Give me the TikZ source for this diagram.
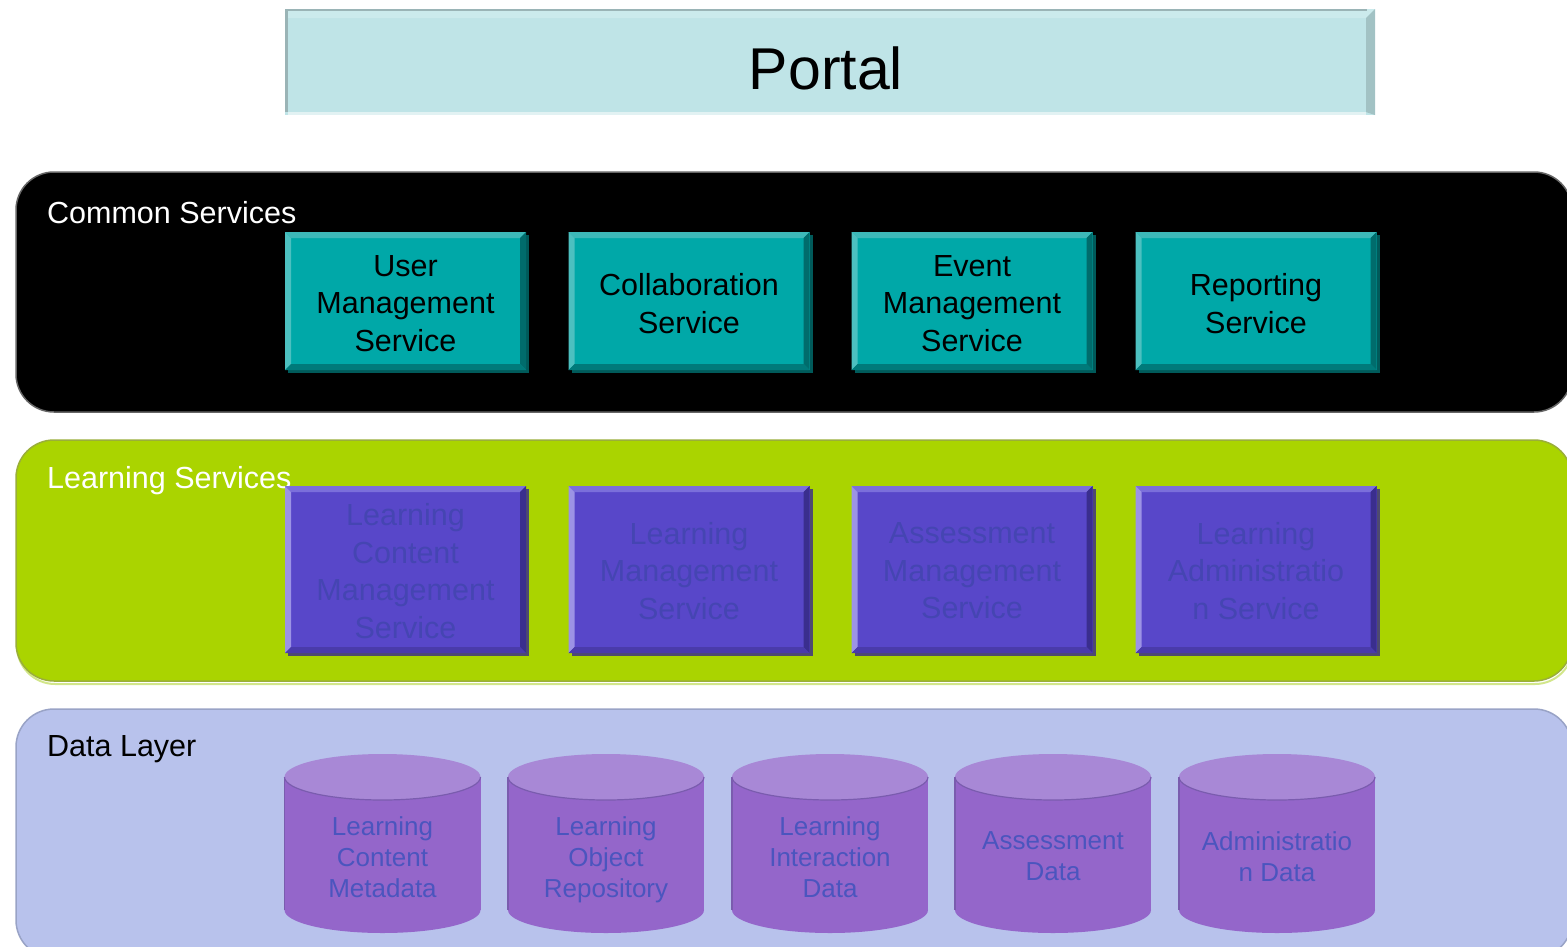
\documentclass[tikz,border=0pt]{standalone}
\usepackage{fontspec}
\setmainfont{Liberation Sans}
\usetikzlibrary{shadows}

\definecolor{portalfill}{HTML}{BFE4E7}
\definecolor{portaltop}{HTML}{CBEAEC}
\definecolor{portalside}{HTML}{A2C2C4}
\definecolor{portaledge}{HTML}{9AB4B6}
\definecolor{portallow}{HTML}{E2F2F3}
\definecolor{tealfill}{HTML}{00A8A8}
\definecolor{tealtop}{HTML}{3DB9B9}
\definecolor{tealleft}{HTML}{4CC0C0}
\definecolor{tealright}{HTML}{006C6C}
\definecolor{tealbottom}{HTML}{007A7A}
\definecolor{tealshade}{HTML}{005A5A}
\definecolor{violetfill}{HTML}{5847C9}
\definecolor{violettop}{HTML}{7B6FDB}
\definecolor{violetleft}{HTML}{9C93E5}
\definecolor{violetright}{HTML}{3A2E8E}
\definecolor{violetbottom}{HTML}{4A3BAA}
\definecolor{violetshade}{HTML}{4E4A70}
\definecolor{violettext}{HTML}{4545B2}
\definecolor{bandgreen}{HTML}{AAD400}
\definecolor{bandgreenedge}{HTML}{9AAE3A}
\definecolor{bandgreenlow}{HTML}{D2E68A}
\definecolor{bandblue}{HTML}{B8C2EC}
\definecolor{bandblueedge}{HTML}{99A3C6}
\definecolor{cylbody}{HTML}{9466CA}
\definecolor{cyltop}{HTML}{A888D6}
\definecolor{cyledge}{HTML}{7A5CAE}
\definecolor{cyltext}{HTML}{4B55BE}

\tikzset{
  band/.style={rounded corners=38pt, line width=1.5pt},
  bandlabel/.style={anchor=west, inner sep=0pt, font=\fontsize{30.5}{36}\selectfont},
  svcbox/.style={minimum width=241pt, minimum height=138pt, inner sep=0pt, outer sep=0pt},
  tealbox/.style={svcbox, fill=tealfill,
    drop shadow={shadow xshift=3pt, shadow yshift=-3pt, fill=tealshade, opacity=1}},
  violetbox/.style={svcbox, minimum height=167pt, fill=violetfill,
    drop shadow={shadow xshift=3pt, shadow yshift=-3pt, fill=violetshade, opacity=1}},
  svctext/.style={align=center, inner sep=0pt, font=\fontsize{30.5}{37.5}\selectfont,
    execute at begin node=\strut, execute at end node=\vphantom{g}},
  cyllabel/.style={align=center, inner sep=0pt, text=cyltext, font=\fontsize{26}{31}\selectfont,
    execute at begin node=\strut, execute at end node=\vphantom{g}},
}

% four bevel strips round a rectangular node: node, width, top, left, right, bottom
\newcommand\bevelstrips[6]{%
  \fill[#3] (#1.north west) -- (#1.north east) -- ([xshift=-#2,yshift=-#2]#1.north east)
    -- ([xshift=#2,yshift=-#2]#1.north west) -- cycle;
  \fill[#4] (#1.north west) -- ([xshift=#2,yshift=-#2]#1.north west)
    -- ([xshift=#2,yshift=#2]#1.south west) -- (#1.south west) -- cycle;
  \fill[#5] (#1.north east) -- (#1.south east) -- ([xshift=-#2,yshift=#2]#1.south east)
    -- ([xshift=-#2,yshift=-#2]#1.north east) -- cycle;
  \fill[#6] (#1.south west) -- ([xshift=#2,yshift=#2]#1.south west)
    -- ([xshift=-#2,yshift=#2]#1.south east) -- (#1.south east) -- cycle;}

% database cylinder centred at x = #1
\newcommand\datacyl[1]{%
  \fill[cylbody] (#1-98,777) rectangle (#1+98,910);
  \fill[cylbody] (#1,910) ellipse (98 and 23);
  \draw[cyledge, line width=1.2pt] (#1-98,910) -- (#1-98,777);
  \fill[cyltop] (#1,777) ellipse (98 and 23);
  \draw[cyledge, line width=1.2pt] (#1-98,777) arc (180:0:98 and 23);}

\begin{document}
\begin{tikzpicture}[x=1pt, y=-1pt]
  \useasboundingbox (0,0) rectangle (1567,946);
  \clip (0,0) rectangle (1567,946);

  % layer bands
  \filldraw[band, fill=black, draw=black!60] (16,172) rectangle (1572,412);
  \draw[bandgreenlow, line width=2pt, rounded corners=38pt] (17,443) rectangle (1573,684);
  \filldraw[band, fill=bandgreen, draw=bandgreenedge] (16,440) rectangle (1572,681);
  \filldraw[band, fill=bandblue, draw=bandblueedge] (16,709) rectangle (1572,958);

  \node[bandlabel, text=white] (common) at (47,213) {Common Services};
  \node[bandlabel, text=white] (learning) at (47,481) {Learning Services};
  \node[bandlabel, text=black] (data) at (47,749) {Data Layer};

  % portal
  \node[minimum width=1090pt, minimum height=106pt, inner sep=0pt, outer sep=0pt,
        fill=portalfill] (portal) at (830,62) {};
  \fill[portaltop] (portal.north west) -- (portal.north east)
    -- ([xshift=-9pt,yshift=-9pt]portal.north east) -- ([xshift=2pt,yshift=-9pt]portal.north west) -- cycle;
  \fill[portalside] (portal.north east) -- (portal.south east)
    -- ([xshift=-9pt,yshift=3pt]portal.south east) -- ([xshift=-9pt,yshift=-9pt]portal.north east) -- cycle;
  \fill[portaledge] (portal.north west) rectangle ([xshift=2.5pt,yshift=3pt]portal.south west);
  \fill[portaledge] ([xshift=2pt]portal.north west) rectangle ([xshift=-8pt,yshift=-2pt]portal.north east);
  \fill[portallow] ([xshift=2.5pt]portal.south west) rectangle ([xshift=-9pt,yshift=3pt]portal.south east);
  \node[inner sep=0pt, font=\fontsize{59}{70}\selectfont] (portaltext) at (826,68) {Portal};

  % common services
  \node[tealbox] (ums) at (405.5,301) {};
  \node[tealbox] (cs)  at (689,301)   {};
  \node[tealbox] (ems) at (972,301)   {};
  \node[tealbox] (rs)  at (1256,301)  {};
  \foreach \n in {ums,cs,ems,rs}
    {\bevelstrips{\n}{6pt}{tealtop}{tealleft}{tealright}{tealbottom}}
  \begin{scope}[every node/.style={svctext, text=black, yshift=-8pt}]
    \node (umst) at (ums.center) {User\\Management\\Service};
    \node (cst)  at (cs.center)  {Collaboration\\Service};
    \node (emst) at (ems.center) {Event\\Management\\Service};
    \node (rst)  at (rs.center)  {Reporting\\Service};
  \end{scope}

  % learning services
  \node[violetbox] (lcms) at (405.5,569.5) {};
  \node[violetbox] (lms)  at (689,569.5)   {};
  \node[violetbox] (ams)  at (972,569.5)   {};
  \node[violetbox] (las)  at (1256,569.5)  {};
  \foreach \n in {lcms,lms,ams,las}
    {\bevelstrips{\n}{6pt}{violettop}{violetleft}{violetright}{violetbottom}}
  \begin{scope}[every node/.style={svctext, text=violettext, yshift=-7pt}]
    \node (lcmst) at (lcms.center) {Learning\\Content\\Management\\Service};
    \node (lmst)  at (lms.center)  {Learning\\Management\\Service};
    \node (amst)  at (ams.center)  {Assessment\\Management\\Service};
    \node (last)  at (las.center)  {Learning\\Administratio\\n Service};
  \end{scope}

  % data stores
  \foreach \cx in {382.5,606,830,1053,1277} {\datacyl{\cx}}
  \begin{scope}[every node/.style={cyllabel, yshift=-6pt}]
    \node (lcmd) at (382.5,856) {Learning\\Content\\Metadata};
    \node (lor)  at (606,856)   {Learning\\Object\\Repository};
    \node (lid)  at (830,856)   {Learning\\Interaction\\Data};
    \node (ad)   at (1053,855)  {Assessment\\Data};
    \node (add)  at (1277,855)  {Administratio\\n Data};
  \end{scope}
\end{tikzpicture}
\end{document}
